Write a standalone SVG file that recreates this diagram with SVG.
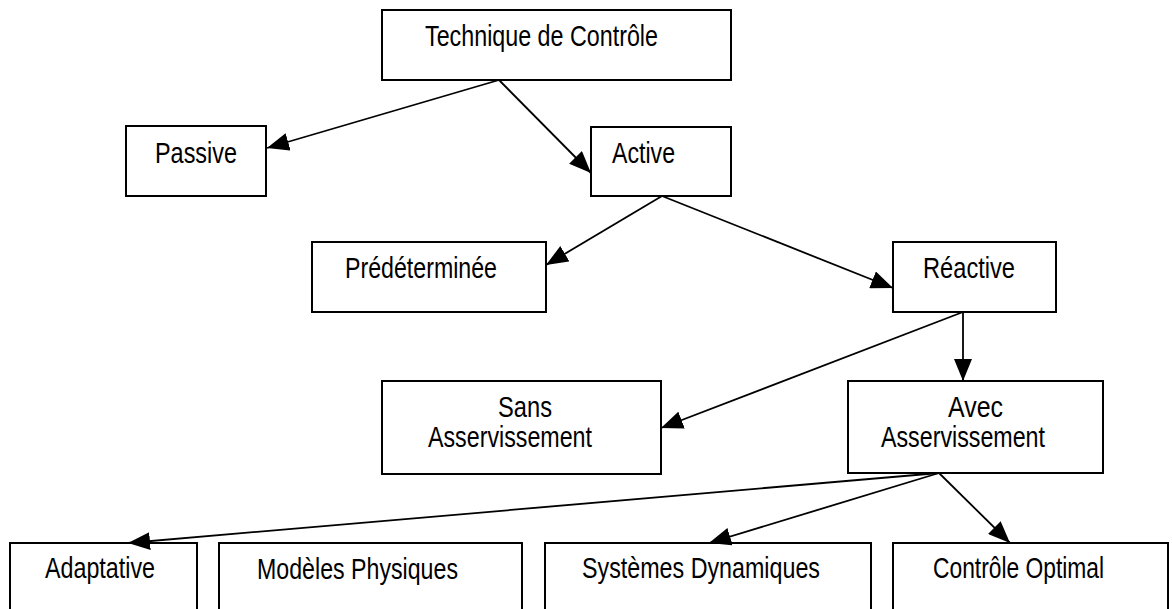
<svg xmlns="http://www.w3.org/2000/svg" width="1172" height="609" viewBox="0 0 1172 609">
<style>
rect{fill:#fff;stroke:#000;stroke-width:2}
text{font-family:"Liberation Sans",Arial,sans-serif;font-size:29px;fill:#000}
.c line{stroke:#000;stroke-width:1.8;marker-end:url(#ah)}
</style>
<defs>
<marker id="ah" viewBox="0 0 22 18" refX="22" refY="9" markerWidth="22" markerHeight="18" markerUnits="userSpaceOnUse" orient="auto">
<path d="M0,0 L22,9 L0,18 z" fill="#000"/>
</marker>
</defs>
<rect x="0" y="0" width="1172" height="609" style="stroke:none"/>
<g id="n-technique"><rect x="382" y="10" width="349" height="70"/><text x="425" y="46" textLength="233" lengthAdjust="spacingAndGlyphs">Technique de Contrôle</text></g>
<g id="n-passive"><rect x="126" y="126" width="140" height="70"/><text x="155" y="163" textLength="82" lengthAdjust="spacingAndGlyphs">Passive</text></g>
<g id="n-active"><rect x="591" y="127" width="140" height="69"/><text x="612" y="163" textLength="63" lengthAdjust="spacingAndGlyphs">Active</text></g>
<g id="n-predeterminee"><rect x="312" y="242" width="234" height="70"/><text x="345" y="278" textLength="152" lengthAdjust="spacingAndGlyphs">Prédéterminée</text></g>
<g id="n-reactive"><rect x="893" y="242" width="163" height="70"/><text x="923" y="278" textLength="92" lengthAdjust="spacingAndGlyphs">Réactive</text></g>
<g id="n-sans"><rect x="382" y="381" width="279" height="93"/><text x="498" y="417" textLength="54" lengthAdjust="spacingAndGlyphs">Sans</text><text x="428" y="447" textLength="164" lengthAdjust="spacingAndGlyphs">Asservissement</text></g>
<g id="n-avec"><rect x="848" y="381" width="255" height="92"/><text x="948" y="417" textLength="55" lengthAdjust="spacingAndGlyphs">Avec</text><text x="881" y="447" textLength="164" lengthAdjust="spacingAndGlyphs">Asservissement</text></g>
<g id="n-adaptative"><rect x="10" y="543" width="187" height="80"/><text x="45" y="578" textLength="110" lengthAdjust="spacingAndGlyphs">Adaptative</text></g>
<g id="n-modeles"><rect x="219" y="543" width="303" height="80"/><text x="257" y="579" textLength="201" lengthAdjust="spacingAndGlyphs">Modèles Physiques</text></g>
<g id="n-systemes"><rect x="545" y="543" width="326" height="80"/><text x="582" y="578" textLength="238" lengthAdjust="spacingAndGlyphs">Systèmes Dynamiques</text></g>
<g id="n-optimal"><rect x="893" y="543" width="275" height="80"/><text x="933" y="578" textLength="171" lengthAdjust="spacingAndGlyphs">Contrôle Optimal</text></g>
<g id="connectors" class="c">
<line x1="499" y1="80" x2="267" y2="148"/>
<line x1="499" y1="80" x2="591" y2="173"/>
<line x1="662" y1="196" x2="546" y2="265"/>
<line x1="662" y1="196" x2="893" y2="288"/>
<line x1="963" y1="312" x2="661" y2="428"/>
<line x1="963" y1="312" x2="963" y2="381"/>
<line x1="939" y1="473" x2="128" y2="543"/>
<line x1="939" y1="473" x2="709" y2="543"/>
<line x1="939" y1="473" x2="1010" y2="543"/>
</g>
</svg>
